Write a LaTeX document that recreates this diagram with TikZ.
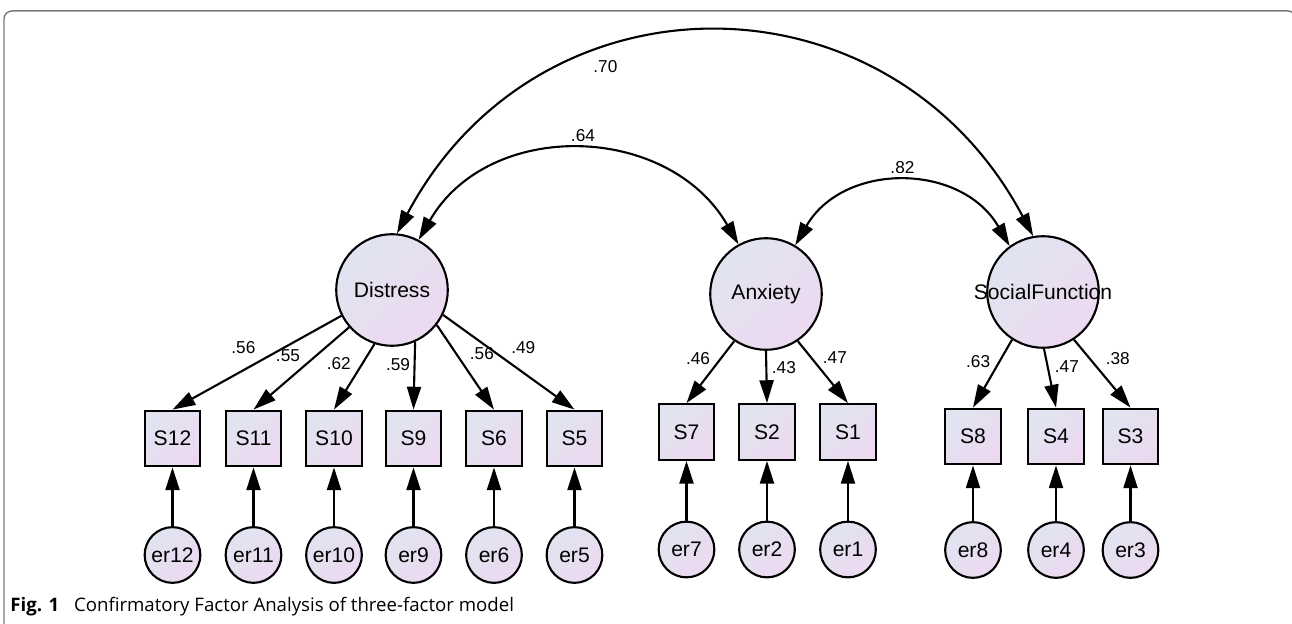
\documentclass[tikz,border=0pt]{standalone}
\usepackage{fontspec}
\setmainfont{Liberation Sans}
\newfontfamily\capfont{Open Sans}
\usetikzlibrary{arrows.meta}
\definecolor{nodetop}{HTML}{E1E4F0}
\definecolor{nodebot}{HTML}{ECD9F0}
\definecolor{framegray}{HTML}{7A7A7A}
\tikzset{
  shadefill/.style={top color=nodetop, bottom color=nodebot, shading angle=45},
  latent/.style={draw, circle, shadefill, line width=1.2pt, inner sep=0pt, minimum size=63.5pt, font=\fontsize{12}{14}\selectfont},
  item/.style={draw, rectangle, shadefill, line width=1.2pt, inner sep=0pt, minimum size=31.7pt, font=\fontsize{12}{14}\selectfont},
  err/.style={draw, circle, shadefill, line width=1.2pt, inner sep=0pt, minimum size=31.7pt, font=\fontsize{12}{14}\selectfont},
  load/.style={line width=1.2pt, -{Triangle[length=13pt,width=8pt]}},
  cov/.style={line width=1.2pt, {Triangle[length=13pt,width=8pt]}-{Triangle[length=13pt,width=8pt]}},
  lbl/.style={inner sep=0pt, font=\fontsize{9.8}{11}\selectfont}
}
\begin{document}
\begin{tikzpicture}[x=0.02cm, y=0.02cm]
    \useasboundingbox (0,0) rectangle (1292,-624);
    \draw[framegray, line width=0.85pt, rounded corners=4.5pt] (4,-640) -- (4,-11) -- (1296,-11) -- (1296,-640);

    % factors
    \node[latent] (Distress) at (392,-290) {Distress};
    \node[latent] (Anxiety) at (766,-294) {Anxiety};
    \node[latent] (Social) at (1043,-292) {\makebox[0pt]{SocialFunction}};

    % items
    \node[item] (s12) at (172.5,-438.5) {S12};
    \node[item] (s11) at (253.5,-438.5) {S11};
    \node[item] (s10) at (334,-438.5) {S10};
    \node[item] (s9) at (413.5,-438.5) {S9};
    \node[item] (s6) at (494,-438.5) {S6};
    \node[item] (s5) at (574.5,-438.5) {S5};
    \node[item] (s7) at (686.5,-432) {S7};
    \node[item] (s2) at (767,-432) {S2};
    \node[item] (s1) at (848,-432) {S1};
    \node[item] (s8) at (973,-436.5) {S8};
    \node[item] (s4) at (1056,-436.5) {S4};
    \node[item] (s3) at (1130.5,-436.5) {S3};

    % errors
    \node[err] (e12) at (172.5,-555) {er12};
    \node[err] (e11) at (253.5,-555) {er11};
    \node[err] (e10) at (334,-555) {er10};
    \node[err] (e9) at (413.5,-555) {er9};
    \node[err] (e6) at (494,-555) {er6};
    \node[err] (e5) at (574.5,-555) {er5};
    \node[err] (e7) at (686.5,-549.5) {er7};
    \node[err] (e2) at (767,-549.5) {er2};
    \node[err] (e1) at (848,-549.5) {er1};
    \node[err] (e8) at (973,-550) {er8};
    \node[err] (e4) at (1056,-550) {er4};
    \node[err] (e3) at (1130.5,-550) {er3};

    % loadings
    \draw[load] (Distress.-153) -- node[lbl, pos=.58, yshift=12.7pt] {.56} (s12.north);
    \draw[load] (Distress.-139) -- node[lbl, pos=.34, xshift=-16.3pt] {.55} (s11.north);
    \draw[load] (Distress.-108) -- node[lbl, pos=.30, xshift=-13.4pt] {.62} (s10.north);
    \draw[load] (Distress.-66) -- node[lbl, pos=.34, xshift=-9.4pt] {.59} (s9.north);
    \draw[load] (Distress.-38) -- node[lbl, pos=.34, xshift=14.6pt] {.56} (s6.north);
    \draw[load] (Distress.-26) -- node[lbl, pos=.61, yshift=14.1pt] {.49} (s5.north);
    \draw[load] (Anxiety.-124) -- node[lbl, pos=.28, xshift=-13pt] {.46} (s7.north);
    \draw[load] (Anxiety.-90) -- node[lbl, pos=.32, xshift=10pt] {.43} (s2.north);
    \draw[load] (Anxiety.-56) -- node[lbl, pos=.26, xshift=13.7pt] {.47} (s1.north);
    \draw[load] (Social.-123) -- node[lbl, pos=.32, xshift=-12.2pt] {.63} (s8.north);
    \draw[load] (Social.-89) -- node[lbl, pos=.31, xshift=10.9pt] {.47} (s4.north);
    \draw[load] (Social.-57) -- node[lbl, pos=.28, xshift=15.9pt] {.38} (s3.north);

    % residuals
    \foreach \e/\s in {e12/s12, e11/s11, e10/s10, e9/s9, e6/s6, e5/s5, e7/s7, e2/s2, e1/s1, e8/s8, e4/s4, e3/s3}
      \draw[load] (\e) -- (\s);

    % correlations
    \draw[cov] (Distress.85) to[out=62, in=118, looseness=1.22] node[lbl, pos=.35, yshift=-9pt] {.70} (Social.100);
    \draw[cov] (Distress.62) to[out=60, in=120, looseness=1.12] node[lbl, pos=.5, xshift=2.5pt, yshift=8.5pt] {.64} (Anxiety.119);
    \draw[cov] (Anxiety.59) to[out=60, in=120, looseness=1.15] node[lbl, pos=.5, yshift=8.5pt] {.82} (Social.126);

    \node[anchor=base west, inner sep=0pt, font=\capfont\fontsize{10.6}{12}\selectfont] (cap) at (10,-612) {\textbf{Fig. 1}\hspace{0.8em}Confirmatory Factor Analysis of three-factor model};
\end{tikzpicture}
\end{document}
